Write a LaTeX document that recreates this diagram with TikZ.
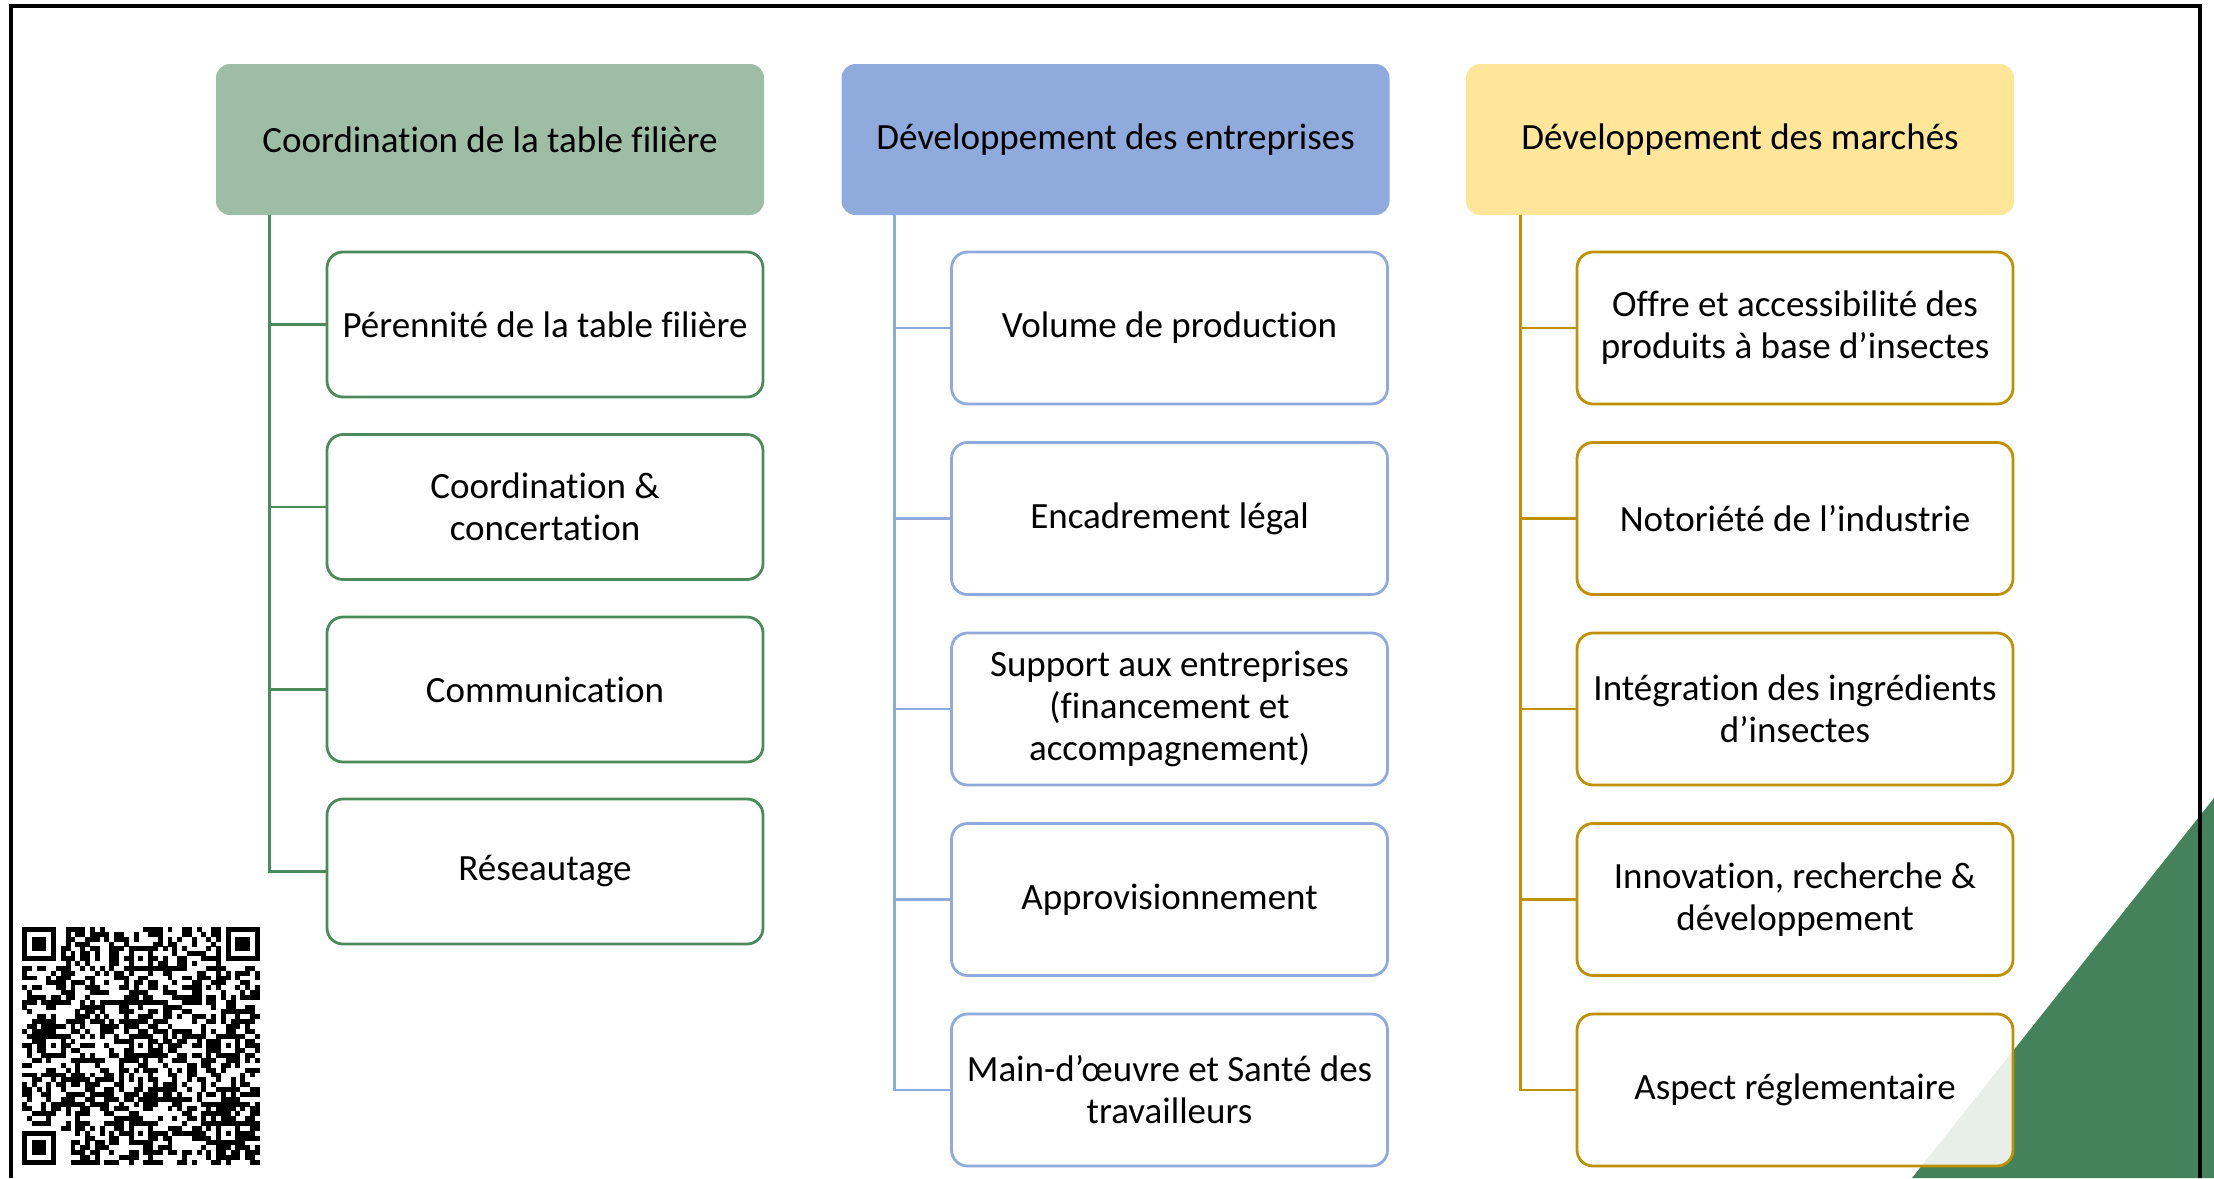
\documentclass[tikz,border=0pt]{standalone}
\usepackage{fontspec}
\setmainfont{Carlito}[Ligatures=NoCommon]
\definecolor{vertfil}{HTML}{9DBDA4}
\definecolor{vertlig}{HTML}{4B8B5B}
\definecolor{bleufil}{HTML}{8FAADC}
\definecolor{jaunefil}{HTML}{FFE699}
\definecolor{jaunelig}{HTML}{BF9000}
\definecolor{vertfonce}{HTML}{43825A}
\tikzset{
  tete/.style={rectangle, rounded corners=7pt, minimum width=274pt, minimum height=75.5pt,
    align=center, font=\fontsize{18.5}{21}\selectfont},
  boite/.style={rectangle, draw, line width=1.4pt, rounded corners=8pt, fill=white,
    fill opacity=0.88, text opacity=1, minimum width=218pt, align=center,
    font=\fontsize{18.5}{21}\selectfont},
  lien/.style={line width=1.4pt}
}
\begin{document}
\begin{tikzpicture}[x=0.5pt,y=-0.5pt]
                \useasboundingbox (0,0) rectangle (2214,1178);
                \fill[vertfonce] (1912,1178) -- (2214,798) -- (2214,1178) -- cycle; % coin vert
                \draw[line width=2.2pt] (11,1178) -- (11,6) -- (2200,6) -- (2200,1178); % cadre
                % titres
                \node[tete, fill=vertfil] (t1) at (490,139.5) {Coordination de la table filière};
                \node[tete, fill=bleufil] (t2) at (1115.5,139.5) {Développement des entreprises};
                \node[tete, fill=jaunefil] (t3) at (1740,139.5) {Développement des marchés};
                \coordinate (r1) at ([xshift=27pt]t1.south west);
                \coordinate (r2) at ([xshift=26.5pt]t2.south west);
                \coordinate (r3) at ([xshift=27.5pt]t3.south west);
                % colonne 1
                \node[boite, draw=vertlig, minimum height=72.5pt] (c11) at (545,324.5) {Pérennité de la table filière};
                \node[boite, draw=vertlig, minimum height=72.5pt] (c12) at (545,507) {Coordination \&\\concertation};
                \node[boite, draw=vertlig, minimum height=72.5pt] (c13) at (545,689.5) {Communication};
                \node[boite, draw=vertlig, minimum height=72.5pt] (c14) at (545,871.5) {Réseautage};
                % colonne 2
                \node[boite, draw=bleufil, minimum height=76pt] (c21) at (1169.5,328) {Volume de production};
                \node[boite, draw=bleufil, minimum height=76pt] (c22) at (1169.5,518.5) {Encadrement légal};
                \node[boite, draw=bleufil, minimum height=76pt] (c23) at (1169.5,709) {Support aux entreprises\\(financement et\\accompagnement)};
                \node[boite, draw=bleufil, minimum height=76pt] (c24) at (1169.5,899.5) {Approvisionnement};
                \node[boite, draw=bleufil, minimum height=76pt] (c25) at (1169.5,1090) {Main-d’œuvre et Santé des\\travailleurs};
                % colonne 3
                \node[boite, draw=jaunelig, minimum height=76pt] (c31) at (1795,328) {Offre et accessibilité des\\produits à base d’insectes};
                \node[boite, draw=jaunelig, minimum height=76pt] (c32) at (1795,518.5) {Notoriété de l’industrie};
                \node[boite, draw=jaunelig, minimum height=76pt] (c33) at (1795,709) {Intégration des ingrédients\\d’insectes};
                \node[boite, draw=jaunelig, minimum height=76pt] (c34) at (1795,899.5) {Innovation, recherche \&\\développement};
                \node[boite, draw=jaunelig, minimum height=76pt] (c35) at (1795,1090) {Aspect réglementaire};
                % liens
                \foreach \c in {c11,c12,c13,c14}
                \draw[lien, vertlig] (r1) |- (\c.west);
                \foreach \c in {c21,c22,c23,c24,c25}
                \draw[lien, bleufil] (r2) |- (\c.west);
                \foreach \c in {c31,c32,c33,c34,c35}
                \draw[lien, jaunelig] (r3) |- (\c.west);
                % code QR
                \pgfmathsetseed{2214}
                \foreach \i in {0,...,48}
                \foreach \j in {0,...,48}{
                  \pgfmathtruncatemacro{\bit}{rnd<0.5 ? 1 : 0}
                  \ifnum\bit=1 \fill ({22+\i*4.85},{927+\j*4.85}) rectangle ++(4.95,4.95); \fi
                }
                \foreach \i/\j in {0/0,41/0,0/41}{
                  \fill[white] ({22+\i*4.85},{927+\j*4.85}) rectangle ++(8*4.85,8*4.85);
                }
                \foreach \i/\j in {0/0,42/0,0/42}{
                  \fill ({22+\i*4.85},{927+\j*4.85}) rectangle ++(7*4.85,7*4.85);
                  \fill[white] ({22+(\i+1)*4.85},{927+(\j+1)*4.85}) rectangle ++(5*4.85,5*4.85);
                  \fill ({22+(\i+2)*4.85},{927+(\j+2)*4.85}) rectangle ++(3*4.85,3*4.85);
                }
                \foreach \i/\j in {22/4,4/22,22/22,40/22,22/40,40/40}{
                  \fill ({22+\i*4.85},{927+\j*4.85}) rectangle ++(5*4.85,5*4.85);
                  \fill[white] ({22+(\i+1)*4.85},{927+(\j+1)*4.85}) rectangle ++(3*4.85,3*4.85);
                  \fill ({22+(\i+2)*4.85},{927+(\j+2)*4.85}) rectangle ++(4.85,4.85);
                }
\end{tikzpicture}
\end{document}
